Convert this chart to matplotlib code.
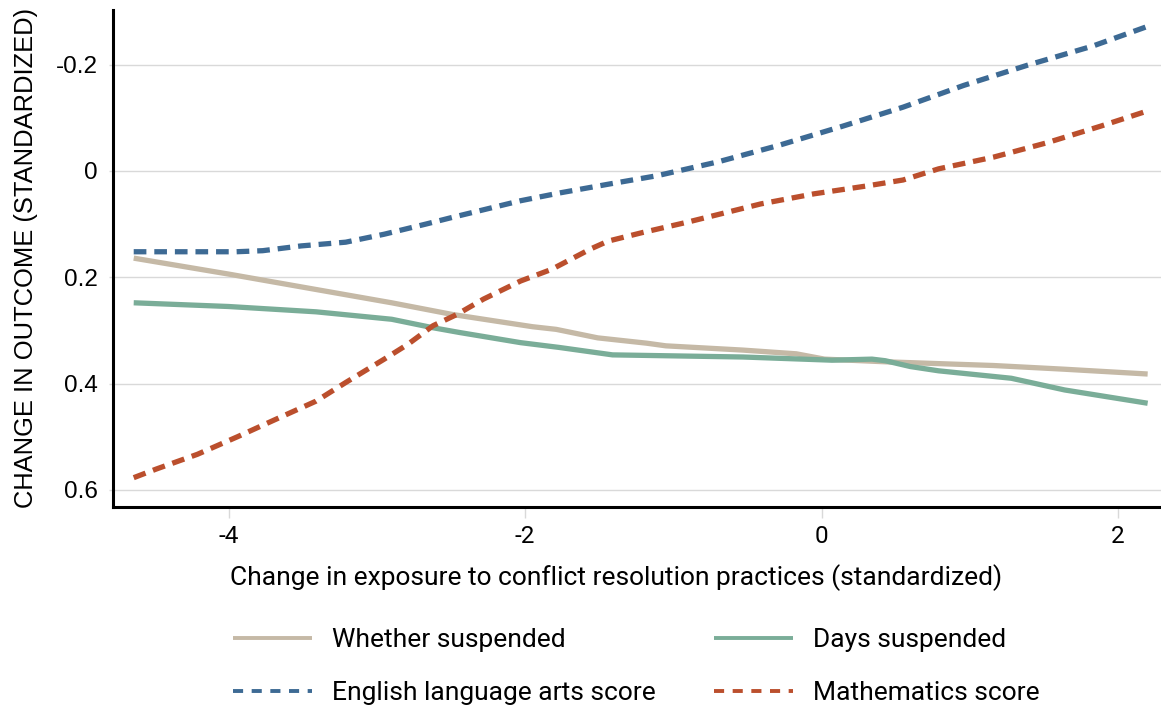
import matplotlib
matplotlib.use("Agg")
import matplotlib.pyplot as plt

# values
whether_x = [-4.64, -4.0, -3.41, -2.90, -2.49, -1.95, -1.79, -1.51, -1.18, -1.05, -0.53, -0.17, 0.02, 0.43, 1.16, 1.64, 2.2]
whether_y = [0.164, 0.194, 0.223, 0.248, 0.270, 0.293, 0.298, 0.314, 0.324, 0.329, 0.337, 0.344, 0.354, 0.359, 0.366, 0.373, 0.382]

days_x = [-4.64, -4.0, -3.41, -2.90, -2.62, -2.44, -2.03, -1.77, -1.41, -0.53, 0.07, 0.34, 0.43, 0.60, 0.79, 1.28, 1.64, 2.2]
days_y = [0.248, 0.255, 0.265, 0.279, 0.295, 0.304, 0.323, 0.332, 0.346, 0.350, 0.356, 0.354, 0.357, 0.368, 0.376, 0.390, 0.412, 0.437]

ela_x = [-4.64, -3.95, -3.77, -3.51, -3.21, -2.95, -2.67, -2.50, -2.03, -1.76, -1.42, -1.11, -0.70, -0.29, 0.14, 0.55, 0.96, 1.39, 1.83, 2.2]
ela_y = [0.152, 0.152, 0.150, 0.141, 0.134, 0.119, 0.100, 0.088, 0.056, 0.041, 0.024, 0.009, -0.017, -0.048, -0.084, -0.120, -0.161, -0.199, -0.235, -0.272]

math_x = [-4.64, -4.49, -4.21, -3.94, -3.68, -3.41, -3.21, -2.95, -2.79, -2.62, -2.46, -2.28, -2.03, -1.82, -1.69, -1.56, -1.44, -1.21, -0.90, -0.77, -0.41, -0.05, 0.31, 0.55, 0.79, 1.16, 1.52, 1.88, 2.2]
math_y = [0.577, 0.561, 0.533, 0.500, 0.467, 0.433, 0.398, 0.354, 0.326, 0.291, 0.270, 0.241, 0.207, 0.185, 0.166, 0.147, 0.132, 0.116, 0.096, 0.087, 0.062, 0.043, 0.028, 0.017, -0.004, -0.026, -0.053, -0.084, -0.113]

x_ticks = [-4, -2, 0, 2]
y_ticks = [-0.2, 0, 0.2, 0.4, 0.6]
y_tick_labels = ["-0.2", "0", "0.2", "0.4", "0.6"]

TAN = "#c5b9a6"
GREEN = "#7aad98"
BLUE = "#3d6a94"
RED = "#bb4f2d"

fig = plt.figure(figsize=(11.61, 7.06), dpi=100)
ax = fig.add_axes([0.0973, 0.282, 0.9027, 0.704])

lw = 3.8
l1, = ax.plot(whether_x, whether_y, color=TAN, lw=lw, label="Whether suspended", solid_capstyle="butt")
l2, = ax.plot(days_x, days_y, color=GREEN, lw=lw, label="Days suspended", solid_capstyle="butt")
l3, = ax.plot(ela_x, ela_y, color=BLUE, lw=lw, dashes=(2.4, 1.5), label="English language arts score")
l4, = ax.plot(math_x, math_y, color=RED, lw=lw, dashes=(2.4, 1.5), label="Mathematics score")

ax.set_xlim(-4.78, 2.29)
ax.set_ylim(0.632, -0.303)

ax.set_xticks(x_ticks)
ax.set_xticklabels([str(t) for t in x_ticks], fontsize=17.5, family="Roboto")
ax.set_yticks(y_ticks)
ax.set_yticklabels(y_tick_labels, fontsize=17.5, family="Liberation Sans")
ax.tick_params(axis="x", length=8, width=1, color="#d9d9d9", pad=5)
ax.tick_params(axis="y", length=3, width=1, color="#d9d9d9", pad=8)

ax.grid(axis="y", color="#d9d9d9", lw=1)
ax.set_axisbelow(True)
for side in ["top", "right"]:
    ax.spines[side].set_visible(False)
for side in ["left", "bottom"]:
    ax.spines[side].set_linewidth(2.2)
    ax.spines[side].set_color("black")

ax.set_xlabel("Change in exposure to conflict resolution practices (standardized)",
              fontsize=19, family="Roboto")
ax.xaxis.set_label_coords(0.48, -0.115)
ax.set_ylabel("CHANGE IN OUTCOME (STANDARDIZED)", fontsize=18.4, family="Liberation Sans")
ax.yaxis.set_label_coords(-0.072, 0.5)

# legend rows: solid lines first, dashed below
leg = fig.legend([l1, l3, l2, l4], [l1.get_label(), l3.get_label(), l2.get_label(), l4.get_label()],
                 ncol=2, loc="center left", bbox_to_anchor=(0.2007, 0.056),
                 frameon=False, prop={"family": "Roboto", "size": 19},
                 handlelength=3.0, handletextpad=0.75, columnspacing=2.2, labelspacing=1.1,
                 borderaxespad=0, borderpad=0)
for line in leg.get_lines():
    line.set_linewidth(2.8)
    if line.get_linestyle() != "-":
        line.set_dashes((2.6, 2.2))

fig.savefig("out.png", dpi=100)
